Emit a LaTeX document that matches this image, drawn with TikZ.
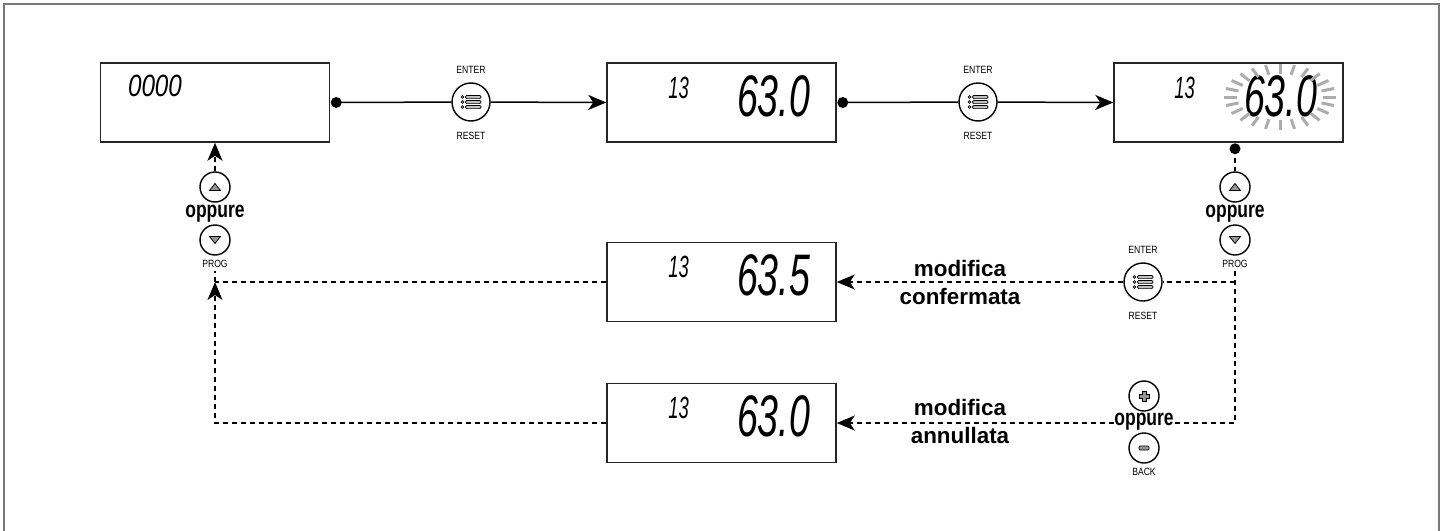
\documentclass[tikz,border=0pt]{standalone}
\usepackage{graphicx}
\usepackage{xcolor}
\usepackage{fontspec}
\setmainfont{Liberation Sans}
\usetikzlibrary{calc,positioning,arrows.meta}

\definecolor{framegray}{RGB}{120,120,120}
\definecolor{raygray}{RGB}{172,172,172}
\definecolor{keygray}{RGB}{150,150,150}

\newcommand{\keytxt}[1]{\scalebox{0.82}[1]{#1}}
\newcommand{\lcd}[3]{\scalebox{#1}[1]{\fontsize{#2}{#2}\selectfont\itshape #3}}
% glyphs drawn inside the keys
\newcommand{\enterglyph}[1]{%
  \foreach \dy in {-5,0,5}{%
    \draw[shift={(#1)}, line width=0.7pt] (-8.5,\dy) circle (1.4pt);
    \draw[shift={(#1)}, line width=0.7pt, fill=black!25, rounded corners=1.2pt] (-5.5,\dy-1.6) rectangle (10,\dy+1.6);
  }}
\newcommand{\upglyph}[1]{\draw[shift={(#1)}, line width=0.8pt, fill=keygray] (-5.5,3.5) -- (5.5,3.5) -- (0,-3.5) -- cycle;}
\newcommand{\downglyph}[1]{\draw[shift={(#1)}, line width=0.8pt, fill=keygray] (-5.5,-3.5) -- (5.5,-3.5) -- (0,3.5) -- cycle;}

\begin{document}
\begin{tikzpicture}[
	%	style def
    x=1pt, y=-1pt,
    important line/.style={line width=1.5pt},
    flow dash/.style={line width=1.4pt, dash pattern=on 5pt off 4pt},
    flowtip/.style={-{Stealth[length=18pt,width=15pt,inset=5pt]}},
    display/.style={draw=black!85, line width=1.5pt, minimum width=229pt, minimum height=79pt, inner sep=0pt},
    key/.style={draw, circle, line width=1.4pt, minimum size=30pt, inner sep=0pt},
    enterkey/.style={key, minimum size=38pt},
    keylabel/.style={font=\fontsize{10.5}{10.5}\selectfont, inner sep=0pt},
    ortext/.style={font=\bfseries\fontsize{23}{23}\selectfont, inner sep=0pt, anchor=base},
    caption/.style={font=\bfseries\fontsize{22.4}{28}\selectfont, align=center, inner sep=0pt},
    every node/.style={color=black}
    ]
    \useasboundingbox (0,0) rectangle (1448,530);
    % outer frame (open at the bottom)
    \draw[framegray, line width=1.6pt] (4,540) -- (4,4) -- (1439,4) -- (1439,540);

	% displays
    \node[display] (boxInit) at (215,102.5) {};
    \node[display] (boxParam) at (721.5,102.5) {};
    \node[display] (boxBlink) at (1228.5,102.5) {};
    \node[display] (boxConf) at (721.5,282) {};
    \node[display] (boxCanc) at (721.5,423) {};

    % display contents
    \node at ($(boxInit)+(-60,-16.5)$) {\lcd{0.79}{30.7}{0000}};
    \node at ($(boxParam)+(-43,-15)$) {\lcd{0.6}{30.7}{13}};
    \node at ($(boxParam)+(52,-6.5)$) {\lcd{0.64}{58.6}{63.0}};
    \node at ($(boxBlink)+(-44,-15)$) {\lcd{0.6}{30.7}{13}};
    \node at ($(boxBlink)+(52,-6.5)$) {\lcd{0.64}{58.6}{63.0}};
    \node at ($(boxConf)+(-43,-15)$) {\lcd{0.6}{30.7}{13}};
    \node at ($(boxConf)+(52,-6.5)$) {\lcd{0.64}{58.6}{63.5}};
    \node at ($(boxCanc)+(-43,-15)$) {\lcd{0.6}{30.7}{13}};
    \node at ($(boxCanc)+(52,-6.5)$) {\lcd{0.64}{58.6}{63.0}};
    % blinking rays
    \foreach \a in {0,15,...,345}
        \draw[raygray, line width=3pt] ({1280+43*cos(\a)},{97+23*sin(\a)}) -- ({1280+56*cos(\a)},{97+33*sin(\a)});

    % keys
    \node[enterkey] (btnEnterA) at (471,102) {};
    \node[enterkey] (btnEnterB) at (978,102) {};
    \node[enterkey] (btnEnterC) at (1143,282) {};
    \foreach \k in {btnEnterA,btnEnterB,btnEnterC}{
        \enterglyph{\k}
        \node[keylabel, above=9pt of \k] {\keytxt{ENTER}};
        \node[keylabel, below=10pt of \k] {\keytxt{RESET}};
    }

    \node[key] (btnUpL) at (215,187) {};
    \node[ortext] (txtOrL) at (215,217) {\scalebox{0.76}[1]{oppure}};
    \node[key] (btnDownL) at (215,240) {};
    \node[keylabel] (lblProgL) at (215,264) {\keytxt{PROG}};
    \upglyph{btnUpL}
    \downglyph{btnDownL}

    \node[key] (btnUpR) at (1235,187) {};
    \node[ortext] (txtOrR) at (1235,217) {\scalebox{0.76}[1]{oppure}};
    \node[key] (btnDownR) at (1235,240) {};
    \node[keylabel] (lblProgR) at (1235,264) {\keytxt{PROG}};
    \upglyph{btnUpR}
    \downglyph{btnDownR}

    \node[key] (btnPlus) at (1144,396) {};
    \node[ortext] (txtOrB) at (1144,425) {\scalebox{0.76}[1]{oppure}};
    \node[key] (btnMinus) at (1144,448) {};
    \node[keylabel] (lblBack) at (1144,472) {\keytxt{BACK}};
    \draw[shift={(btnPlus)}, fill=keygray, line width=0.8pt] (-2,-5) -- (2,-5) -- (2,-2) -- (5,-2) -- (5,2) -- (2,2) -- (2,5) -- (-2,5) -- (-2,2) -- (-5,2) -- (-5,-2) -- (-2,-2) -- cycle;
    \draw[shift={(btnMinus)}, fill=keygray, line width=0.8pt, rounded corners=1pt] (-5,-2) rectangle (5,2);

    % captions
    \node[caption] (capConf) at (960,282) {modifica\\confermata};
    \node[caption] (capCanc) at (960,421) {modifica\\annullata};

	% main flow (solid)
    \coordinate (dotInit) at ($(boxInit.east)+(6,0)$);
    \coordinate (dotParam) at ($(boxParam.east)+(6,0)$);
    \coordinate (dotBlink) at ($(boxBlink.south)+(6.5,6)$);
    \fill[black] (dotInit) circle (5.5pt)
                 (dotParam) circle (5.5pt)
                 (dotBlink) circle (5.5pt);
    \draw[important line] (dotInit) -- (btnEnterA);
    \draw[important line, flowtip] (btnEnterA) -- (boxParam.west);
    \draw[important line] (dotParam) -- (btnEnterB);
    \draw[important line, flowtip] (btnEnterB) -- (boxBlink.west);

    % edit branches (dashed)
    \coordinate (joinR) at (1235,282);
    \coordinate (cornerR) at (1235,423);
    \draw[flow dash] (dotBlink) -- (btnUpR);
    \draw[flow dash] ($(lblProgR.south)+(0,3)$) -- (cornerR) -- (cornerR -| txtOrB.east);
    \draw[flow dash, flowtip] (cornerR -| txtOrB.west) -- (boxCanc.east);
    \draw[flow dash] (joinR) -- (btnEnterC);
    \draw[flow dash, flowtip] (btnEnterC) -- (boxConf.east);

    % back to start
    \coordinate (joinL) at (215,282);
    \coordinate (cornerL) at (215,423);
    \draw[flow dash] (boxConf.west) -- (joinL);
    \draw[flow dash, flowtip] (boxCanc.west) -- (cornerL) -- (joinL);
    \draw[flow dash] (joinL) -- ($(lblProgL.south)+(0,3)$);
    \draw[flow dash, flowtip] (btnUpL) -- (boxInit.south);
\end{tikzpicture}
\end{document}
